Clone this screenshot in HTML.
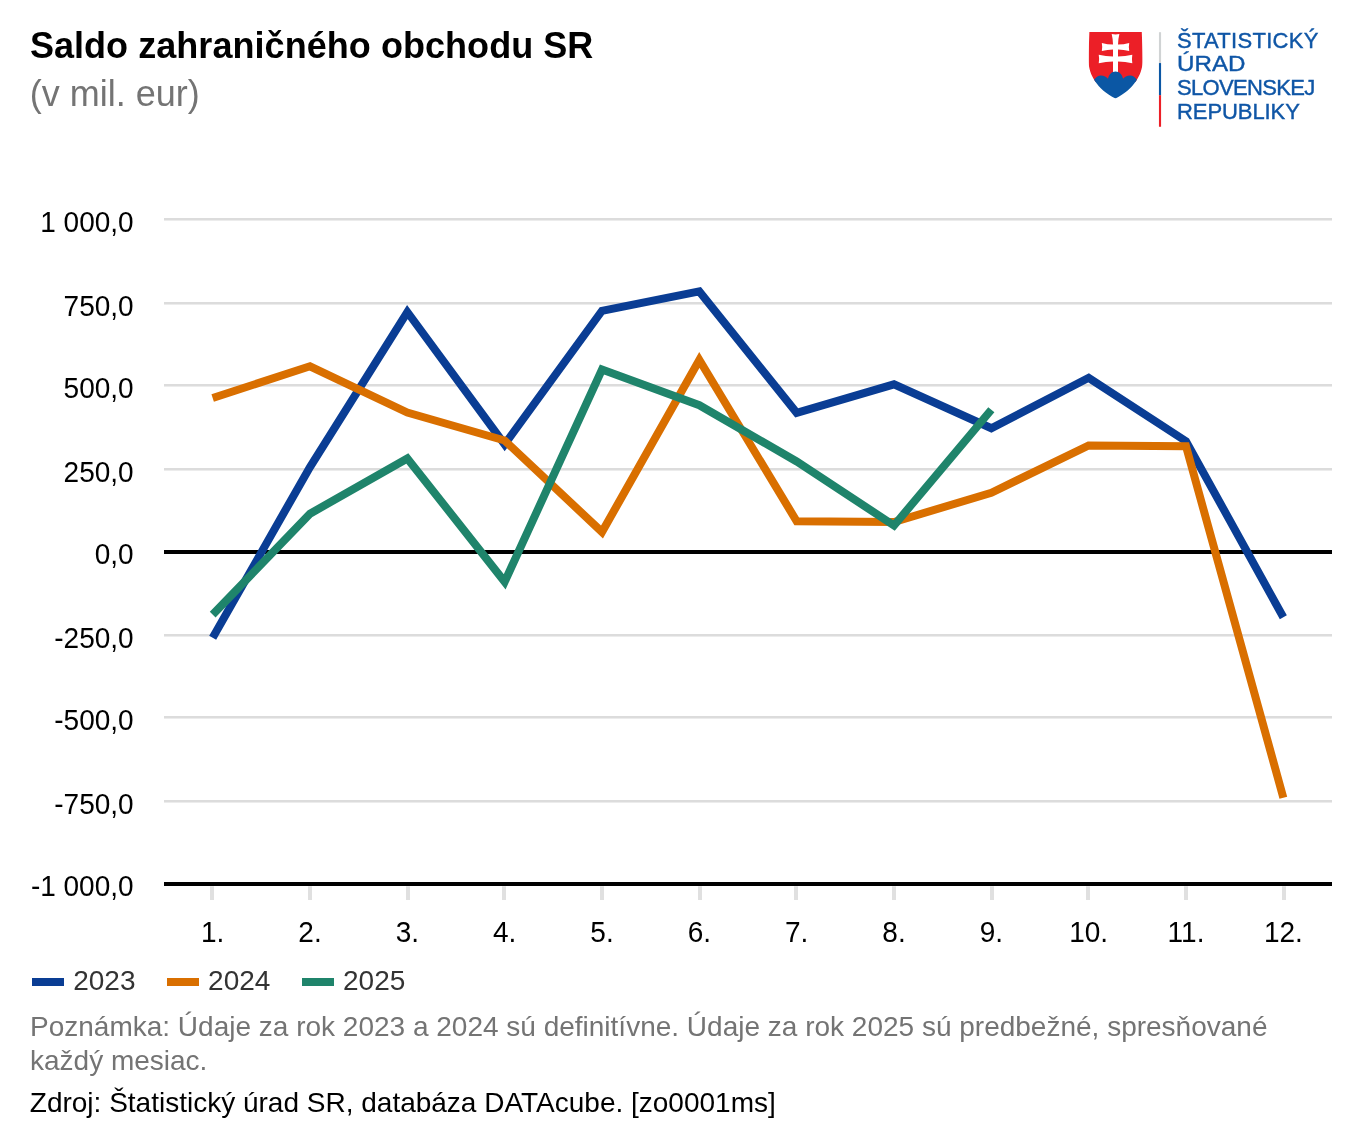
<!DOCTYPE html>
<html lang="sk">
<head>
<meta charset="utf-8">
<title>Saldo zahraničného obchodu SR</title>
<style>
html,body{margin:0;padding:0;background:#fff;}
body{width:1362px;height:1140px;position:relative;overflow:hidden;font-family:"Liberation Sans",Arial,sans-serif;color:#000;}
.abs{position:absolute;white-space:nowrap;line-height:1;}
h1{margin:0;font-size:36px;font-weight:bold;left:29.9px;top:28.2px;letter-spacing:0.05px;}
.sub{font-size:36px;color:#747474;left:29.7px;top:75.7px;}
svg.chart{position:absolute;left:0;top:0;}
svg.chart text{font-family:"Liberation Sans",Arial,sans-serif;font-size:28px;fill:#000;}
.legend{left:32px;top:965px;font-size:28px;color:#333;display:flex;}
.legend .item{display:flex;align-items:center;margin-right:31.45px;height:32px;}
.legend .sw{display:inline-block;width:32px;height:8px;margin-right:9.2px;position:relative;top:1px;}
.note{font-size:28px;color:#747474;left:30px;top:1010px;line-height:34.2px;white-space:normal;width:1300px;}
.src{font-size:28px;color:#000;left:29.8px;top:1089px;}
.logo-text{left:1177px;top:28.6px;font-size:22px;line-height:23.7px;color:#0f56a6;white-space:pre;-webkit-text-stroke:0.4px #0f56a6;}
.logo-text span{display:block;}
</style>
</head>
<body>
<h1 class="abs">Saldo zahraničného obchodu SR</h1>
<div class="abs sub">(v mil. eur)</div>

<svg class="logo" style="position:absolute;left:1080px;top:24px" width="100" height="110" viewBox="0 0 1036 1140">
<defs><clipPath id="sh"><path d="M97 82 H640 C644 200 650 300 648 400 C644 520 560 680 368 772 C176 680 92 520 90 400 C88 300 93 200 97 82 Z"/></clipPath></defs>
<g clip-path="url(#sh)">
<rect x="0" y="0" width="1036" height="600" fill="#ec1f27"/>
<path d="M328 104 Q368 112 408 104 Q394 160 394 212 Q452 212 510 196 Q502 238 510 280 Q452 264 394 264 V336 Q468 336 542 318 Q534 362 542 406 Q468 388 394 388 V520 H342 V388 Q268 388 194 406 Q202 362 194 318 Q268 336 342 336 V264 Q284 264 226 280 Q234 238 226 196 Q284 212 342 212 Q342 160 328 104 Z" fill="#fff"/>
<path d="M100 640 C130 600 165 537 215 535 C250 535 275 550 290 568 C300 520 330 492 368 492 C406 492 436 520 446 568 C461 550 486 535 521 535 C571 537 606 600 636 640 L676 800 L60 800 Z" fill="#0b57a4"/>
</g>
<rect x="818" y="85" width="22" height="322" fill="#d0d3d4"/>
<rect x="818" y="405" width="22" height="335" fill="#0b57a4"/>
<rect x="818" y="738" width="22" height="327" fill="#ec1f27"/>
</svg>
<div class="abs logo-text"><span style="letter-spacing:0.28px">ŠTATISTICKÝ</span><span style="transform:scaleX(1.098);transform-origin:0 0;letter-spacing:0px">ÚRAD</span><span style="letter-spacing:-0.66px">SLOVENSKEJ</span><span style="letter-spacing:-0.08px">REPUBLIKY</span></div>

<svg class="chart" width="1362" height="1140" viewBox="0 0 1362 1140">
<g>
<rect x="164.0" y="218" width="1168.0" height="2.55" fill="#dcdcdc"/>
<rect x="164.0" y="302" width="1168.0" height="2.55" fill="#dcdcdc"/>
<rect x="164.0" y="384" width="1168.0" height="2.55" fill="#dcdcdc"/>
<rect x="164.0" y="468" width="1168.0" height="2.55" fill="#dcdcdc"/>
<rect x="164.0" y="634" width="1168.0" height="2.55" fill="#dcdcdc"/>
<rect x="164.0" y="716" width="1168.0" height="2.55" fill="#dcdcdc"/>
<rect x="164.0" y="800" width="1168.0" height="2.55" fill="#dcdcdc"/>
</g>
<g>
<rect x="210" y="886.3" width="4" height="13.7" fill="#e0e0e0"/>
<rect x="308" y="886.3" width="4" height="13.7" fill="#e0e0e0"/>
<rect x="406" y="886.3" width="4" height="13.7" fill="#e0e0e0"/>
<rect x="502" y="886.3" width="4" height="13.7" fill="#e0e0e0"/>
<rect x="600" y="886.3" width="4" height="13.7" fill="#e0e0e0"/>
<rect x="698" y="886.3" width="4" height="13.7" fill="#e0e0e0"/>
<rect x="794" y="886.3" width="4" height="13.7" fill="#e0e0e0"/>
<rect x="892" y="886.3" width="4" height="13.7" fill="#e0e0e0"/>
<rect x="990" y="886.3" width="4" height="13.7" fill="#e0e0e0"/>
<rect x="1086" y="886.3" width="4" height="13.7" fill="#e0e0e0"/>
<rect x="1184" y="886.3" width="4" height="13.7" fill="#e0e0e0"/>
<rect x="1282" y="886.3" width="4" height="13.7" fill="#e0e0e0"/>
</g>
<line x1="164.0" x2="1332.0" y1="552.0" y2="552.0" stroke="#000" stroke-width="4"/>
<line x1="164.0" x2="1332.0" y1="884.00" y2="884.00" stroke="#000" stroke-width="4"/>
<g fill="none" stroke-width="8" stroke-linejoin="miter" stroke-linecap="butt" stroke-miterlimit="10">
<polyline stroke="#0a3d94" points="212.67,637.70 310.00,467.00 407.33,312.00 504.67,444.40 602.00,310.75 699.33,291.40 796.67,412.80 894.00,384.30 991.33,428.20 1088.67,377.80 1186.00,441.25 1283.33,617.30"/>
<polyline stroke="#d96f00" points="212.67,398.00 310.00,366.30 407.33,412.50 504.67,440.50 602.00,532.00 699.33,360.00 796.67,521.25 894.00,522.00 991.33,492.75 1088.67,445.50 1186.00,446.30 1283.33,797.70"/>
<polyline stroke="#1f846b" points="212.67,614.60 310.00,513.70 407.33,458.40 504.67,581.80 602.00,369.50 699.33,405.25 796.67,461.50 894.00,525.50 991.33,409.75"/>
</g>
<g>
<text transform="translate(133.6,231.90) scale(1,1.04)" text-anchor="end">1 000,0</text>
<text transform="translate(133.6,315.90) scale(1,1.04)" text-anchor="end">750,0</text>
<text transform="translate(133.6,397.90) scale(1,1.04)" text-anchor="end">500,0</text>
<text transform="translate(133.6,481.90) scale(1,1.04)" text-anchor="end">250,0</text>
<text transform="translate(133.6,563.90) scale(1,1.04)" text-anchor="end">0,0</text>
<text transform="translate(133.6,647.90) scale(1,1.04)" text-anchor="end">-250,0</text>
<text transform="translate(133.6,729.90) scale(1,1.04)" text-anchor="end">-500,0</text>
<text transform="translate(133.6,813.90) scale(1,1.04)" text-anchor="end">-750,0</text>
<text transform="translate(133.6,895.90) scale(1,1.04)" text-anchor="end">-1 000,0</text>
</g>
<g>
<text transform="translate(212.67,942.3) scale(1,1.04)" text-anchor="middle">1.</text>
<text transform="translate(310.00,942.3) scale(1,1.04)" text-anchor="middle">2.</text>
<text transform="translate(407.33,942.3) scale(1,1.04)" text-anchor="middle">3.</text>
<text transform="translate(504.67,942.3) scale(1,1.04)" text-anchor="middle">4.</text>
<text transform="translate(602.00,942.3) scale(1,1.04)" text-anchor="middle">5.</text>
<text transform="translate(699.33,942.3) scale(1,1.04)" text-anchor="middle">6.</text>
<text transform="translate(796.67,942.3) scale(1,1.04)" text-anchor="middle">7.</text>
<text transform="translate(894.00,942.3) scale(1,1.04)" text-anchor="middle">8.</text>
<text transform="translate(991.33,942.3) scale(1,1.04)" text-anchor="middle">9.</text>
<text transform="translate(1088.67,942.3) scale(1,1.04)" text-anchor="middle">10.</text>
<text transform="translate(1186.00,942.3) scale(1,1.04)" text-anchor="middle">11.</text>
<text transform="translate(1283.33,942.3) scale(1,1.04)" text-anchor="middle">12.</text>
</g>
</svg>

<div class="abs legend">
<div class="item"><span class="sw" style="background:#0a3d94"></span>2023</div>
<div class="item"><span class="sw" style="background:#d96f00"></span>2024</div>
<div class="item"><span class="sw" style="background:#1f846b"></span>2025</div>
</div>
<div class="abs note">Poznámka: Údaje za rok 2023 a 2024 sú definitívne. Údaje za rok 2025 sú predbežné, spresňované každý mesiac.</div>
<div class="abs src">Zdroj: Štatistický úrad SR, databáza DATAcube. [zo0001ms]</div>
</body>
</html>
